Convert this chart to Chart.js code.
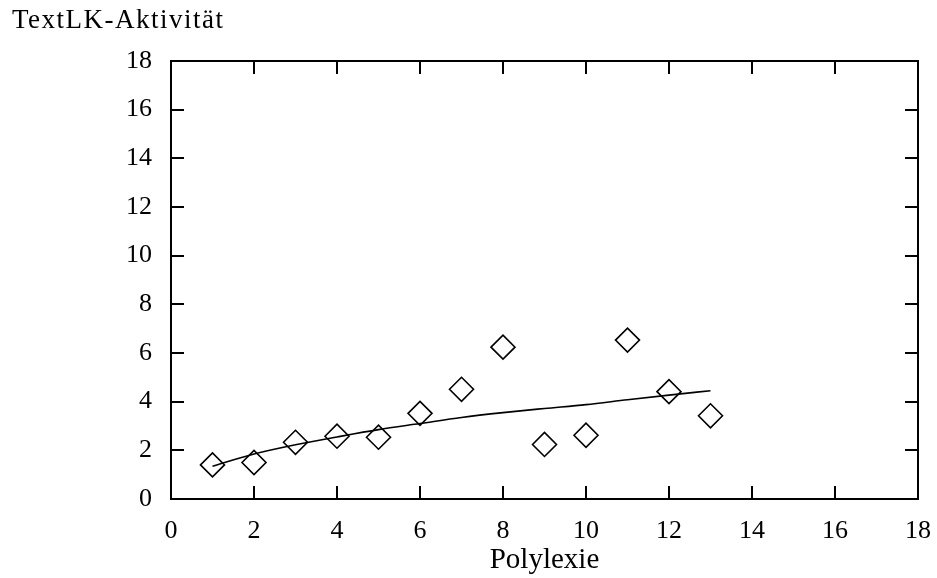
<!DOCTYPE html>
<html>
<head>
<meta charset="utf-8">
<script src="https://cdn.jsdelivr.net/npm/chart.js@4/dist/chart.umd.min.js"></script>
<style>
  html, body { margin: 0; padding: 0; background: #fff; }
  #wrap { width: 937px; height: 578px; }
</style>
</head>
<body>
<div id="wrap"><canvas id="c" width="937" height="578"></canvas></div>
<script>
// Data
const polylexie = [1, 2, 3, 4, 5, 6, 7, 8, 9, 10, 11, 12, 13];
const textLKAktivitaet = [1.40, 1.50, 2.33, 2.58, 2.54, 3.52, 4.51, 6.24, 2.24, 2.62, 6.53, 4.41, 3.42];
const trendX = [1, 2, 3, 4, 5, 6, 7, 8, 9, 10, 11, 12, 13];
const trendY = [1.35, 1.85, 2.23, 2.55, 2.85, 3.10, 3.35, 3.55, 3.72, 3.88, 4.08, 4.27, 4.45];
const xTicks = [0, 2, 4, 6, 8, 10, 12, 14, 16, 18];
const yTicks = [0, 2, 4, 6, 8, 10, 12, 14, 16, 18];
const yTitle = 'TextLK-Aktivität';
const xTitle = 'Polylexie';

const SERIF = "'Liberation Serif', 'DejaVu Serif', serif";

const framePlugin = {
  id: 'frame',
  afterDraw(chart) {
    const ctx = chart.ctx;
    const a = chart.chartArea;
    const xs = chart.scales.x, ys = chart.scales.y;
    const tl = 13;
    ctx.save();
    ctx.strokeStyle = '#000';
    ctx.lineWidth = 2;
    ctx.strokeRect(a.left, a.top, a.right - a.left, a.bottom - a.top);
    ctx.beginPath();
    xTicks.forEach(v => {
      const px = Math.round(xs.getPixelForValue(v));
      ctx.moveTo(px, a.bottom); ctx.lineTo(px, a.bottom - tl);
      ctx.moveTo(px, a.top); ctx.lineTo(px, a.top + tl);
    });
    yTicks.forEach(v => {
      const py = Math.round(ys.getPixelForValue(v));
      ctx.moveTo(a.left, py); ctx.lineTo(a.left + tl, py);
      ctx.moveTo(a.right, py); ctx.lineTo(a.right - tl, py);
    });
    ctx.stroke();
    // y-axis title at top left
    ctx.fillStyle = '#000';
    ctx.font = "27px " + SERIF;
    if ('letterSpacing' in ctx) ctx.letterSpacing = '1.5px';
    ctx.textAlign = 'left';
    ctx.textBaseline = 'alphabetic';
    ctx.fillText(yTitle, 12, 28);
    ctx.restore();
  }
};

new Chart(document.getElementById('c'), {
  type: 'scatter',
  data: {
    datasets: [
      {
        type: 'line',
        label: 'Trend',
        data: trendX.map((x, i) => ({ x: x, y: trendY[i] })),
        borderColor: '#000',
        borderWidth: 1.6,
        pointRadius: 0,
        fill: false,
        cubicInterpolationMode: 'monotone',
        order: 2
      },
      {
        label: yTitle,
        data: polylexie.map((x, i) => ({ x: x, y: textLKAktivitaet[i] })),
        pointStyle: 'rectRot',
        pointRadius: 12,
        pointHoverRadius: 12,
        pointBorderWidth: 1.6,
        pointBackgroundColor: 'rgba(255,255,255,0)',
        pointBorderColor: '#000',
        showLine: false,
        order: 1
      }
    ]
  },
  options: {
    responsive: false,
    animation: false,
    events: [],
    layout: { padding: { top: 61, right: 19, left: 0, bottom: 0 }, autoPadding: false },
    plugins: {
      legend: { display: false },
      tooltip: { enabled: false },
      title: { display: false }
    },
    scales: {
      x: {
        type: 'linear',
        min: 0, max: 18,
        afterBuildTicks(scale) { scale.ticks = xTicks.map(v => ({ value: v })); },
        afterFit(scale) { scale.height = 79; scale.paddingLeft = 0; scale.paddingRight = 0; },
        grid: { display: false, drawTicks: false },
        border: { display: false },
        ticks: {
          color: '#000',
          font: { family: SERIF, size: 26 },
          padding: 17,
          maxRotation: 0,
          autoSkip: false
        },
        title: {
          display: true,
          text: xTitle,
          color: '#000',
          font: { family: SERIF, size: 29 },
          padding: { top: 0, bottom: 0 }
        }
      },
      y: {
        type: 'linear',
        min: 0, max: 18,
        afterBuildTicks(scale) { scale.ticks = yTicks.map(v => ({ value: v })); },
        afterFit(scale) { scale.width = 171; scale.paddingTop = 0; scale.paddingBottom = 0; },
        grid: { display: false, drawTicks: false },
        border: { display: false },
        ticks: {
          color: '#000',
          font: { family: SERIF, size: 26 },
          padding: 19,
          autoSkip: false
        }
      }
    }
  },
  plugins: [framePlugin]
});
</script>
</body>
</html>
